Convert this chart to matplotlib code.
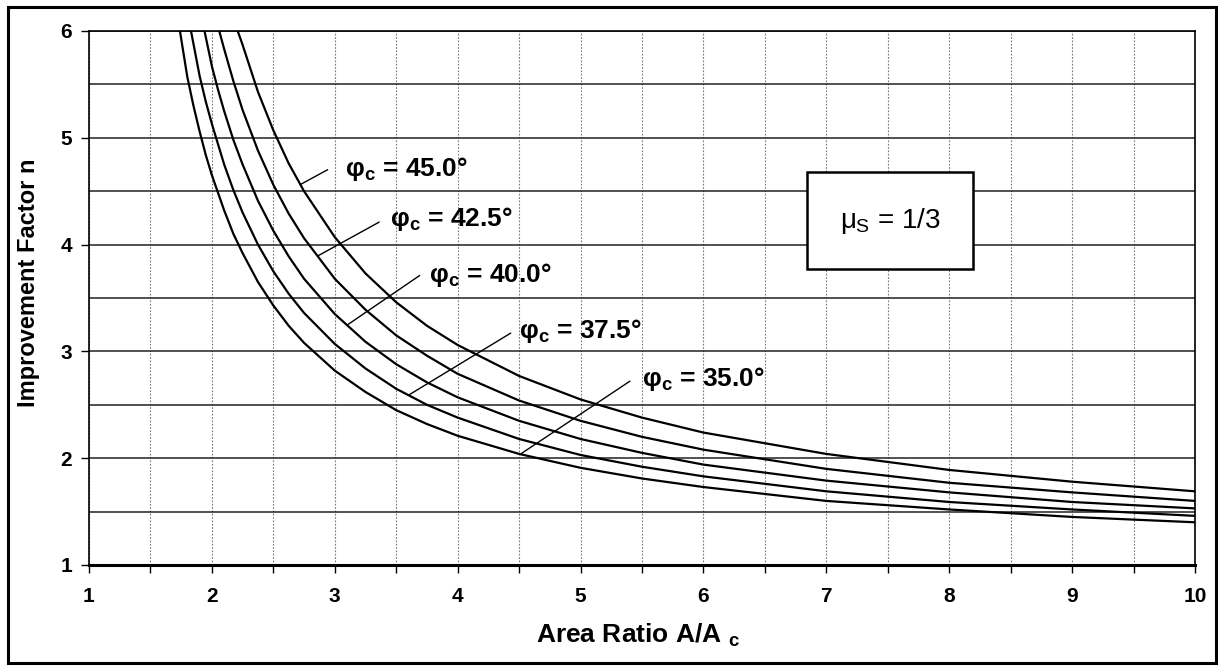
import numpy as np
import matplotlib
matplotlib.use("Agg")
import matplotlib.pyplot as plt
from matplotlib.patches import Rectangle
from matplotlib.ticker import MultipleLocator

plt.rcParams['font.family'] = ['Liberation Sans', 'DejaVu Sans']
plt.rcParams['font.weight'] = 'bold'
plt.rcParams['axes.labelweight'] = 'bold'
plt.rcParams['mathtext.fontset'] = 'custom'
plt.rcParams['mathtext.rm'] = 'Liberation Sans:normal'
plt.rcParams['mathtext.it'] = 'Liberation Sans:normal'
plt.rcParams['mathtext.bf'] = 'Liberation Sans:bold'

# curves: area ratio A/Ac -> improvement factor n
x_35 = [1.74, 1.8, 1.85, 1.9, 1.95, 2.0, 2.1, 2.175, 2.25, 2.375, 2.5, 2.625, 2.75, 3.0,
        3.25, 3.5, 3.75, 4.0, 4.5, 5.0, 5.5, 6.0, 7.0, 8.0, 9.0, 10.0]
n_35 = [6.0, 5.57, 5.30, 5.06, 4.84, 4.65, 4.32, 4.10, 3.92, 3.65, 3.43, 3.24, 3.08, 2.82,
        2.62, 2.45, 2.32, 2.21, 2.04, 1.91, 1.81, 1.73, 1.60, 1.52, 1.45, 1.40]

x_375 = [1.83, 1.9, 1.95, 2.0, 2.1, 2.175, 2.25, 2.375, 2.5, 2.625, 2.75, 3.0, 3.25, 3.5,
         3.75, 4.0, 4.5, 5.0, 5.5, 6.0, 7.0, 8.0, 9.0, 10.0]
n_375 = [6.0, 5.58, 5.34, 5.13, 4.75, 4.51, 4.30, 4.00, 3.75, 3.54, 3.36, 3.07, 2.84, 2.65,
         2.50, 2.38, 2.18, 2.03, 1.92, 1.83, 1.69, 1.59, 1.52, 1.46]

x_40 = [1.94, 2.0, 2.05, 2.1, 2.175, 2.25, 2.375, 2.5, 2.625, 2.75, 3.0, 3.25, 3.5, 3.75,
        4.0, 4.5, 5.0, 5.5, 6.0, 7.0, 8.0, 9.0, 10.0]
n_40 = [6.0, 5.67, 5.45, 5.25, 4.98, 4.75, 4.41, 4.13, 3.89, 3.68, 3.35, 3.09, 2.88, 2.71,
        2.57, 2.35, 2.18, 2.05, 1.94, 1.79, 1.68, 1.59, 1.53]

x_425 = [2.06, 2.1, 2.175, 2.25, 2.375, 2.5, 2.625, 2.75, 3.0, 3.25, 3.5, 3.75, 4.0, 4.5,
         5.0, 5.5, 6.0, 7.0, 8.0, 9.0, 10.0]
n_425 = [6.0, 5.83, 5.53, 5.26, 4.88, 4.56, 4.29, 4.06, 3.68, 3.39, 3.15, 2.96, 2.79, 2.54,
         2.35, 2.20, 2.08, 1.90, 1.77, 1.68, 1.60]

x_45 = [2.21, 2.25, 2.375, 2.5, 2.625, 2.75, 3.0, 3.25, 3.5, 3.75, 4.0, 4.5, 5.0, 5.5,
        6.0, 7.0, 8.0, 9.0, 10.0]
n_45 = [6.0, 5.87, 5.43, 5.07, 4.76, 4.50, 4.07, 3.73, 3.46, 3.24, 3.06, 2.77, 2.55, 2.38,
        2.24, 2.04, 1.89, 1.78, 1.69]

curve_labels = ['45.0', '42.5', '40.0', '37.5', '35.0']
curves = [(x_45, n_45), (x_425, n_425), (x_40, n_40), (x_375, n_375), (x_35, n_35)]

# leader line: x on the curve, end point of the line, start of the label text
leader_x = [2.72, 2.86, 3.10, 3.60, 4.51]
leader_end = [(2.94, 4.70), (3.36, 4.21), (3.69, 3.71), (4.43, 3.17), (5.40, 2.72)]
label_pos = [(3.08, 4.64), (3.45, 4.17), (3.77, 3.65), (4.50, 3.13), (5.50, 2.68)]

fig = plt.figure(figsize=(12.22, 6.66), dpi=100)
ax = fig.add_axes([89 / 1222, 101 / 666, 1106 / 1222, 534 / 666])

for (xs, ns), lab, lx, (ex, ey), (tx, ty) in zip(curves, curve_labels, leader_x,
                                                  leader_end, label_pos):
    ax.plot(xs, ns, color='black', lw=1.6, zorder=3)
    ly = np.interp(lx, xs, ns)
    ax.plot([lx, ex], [ly, ey], color='black', lw=1.0, zorder=3)
    ax.text(tx, ty, r'$\mathbf{\varphi_c}$ = ' + lab + '°', fontsize=19,
            ha='left', va='baseline', zorder=4)

# mu_s box
ax.add_patch(Rectangle((6.84, 3.77), 1.35, 0.91, facecolor='white', edgecolor='black',
                       lw=1.8, zorder=4))
ax.text(7.52, 4.22, r'$\mu_\mathrm{S}$ = 1/3', fontsize=20, fontweight='normal',
        ha='center', va='center', zorder=5)

ax.set_xlim(1, 10)
ax.set_ylim(1, 6)
ax.xaxis.set_major_locator(MultipleLocator(1))
ax.xaxis.set_minor_locator(MultipleLocator(0.5))
ax.yaxis.set_major_locator(MultipleLocator(1))
ax.yaxis.set_minor_locator(MultipleLocator(0.5))
ax.grid(axis='x', which='both', color='#777777', lw=0.8, linestyle=(0, (1.5, 1.5)))
ax.grid(axis='y', which='both', color='#222222', lw=1.1)
ax.set_axisbelow(True)

ax.tick_params(axis='x', which='both', direction='out', length=6, width=1.0,
               labelsize=15, pad=10)
ax.tick_params(axis='y', which='major', direction='out', length=6, width=1.0,
               labelsize=15, pad=6)
ax.tick_params(axis='y', which='minor', length=0)

for side in ['left', 'right', 'top']:
    ax.spines[side].set_linewidth(1.2)
ax.spines['bottom'].set_linewidth(2.2)

ax.set_xlabel(r'Area Ratio A/A $_\mathbf{c}$', fontsize=19, fontweight='bold')
ax.xaxis.label.set_va('baseline')
ax.xaxis.set_label_coords(0.496, -0.146)
ax.set_ylabel('Improvement Factor n', fontsize=17, fontweight='bold')
ax.yaxis.label.set_va('center')
ax.yaxis.set_label_coords(-0.055, 0.528)

# frame round the whole picture
fig.patches.append(Rectangle((8 / 1222, 3 / 666), 1208 / 1222, 656 / 666,
                             transform=fig.transFigure, fill=False,
                             edgecolor='black', lw=2.2))

fig.savefig('out.png', dpi=100)
